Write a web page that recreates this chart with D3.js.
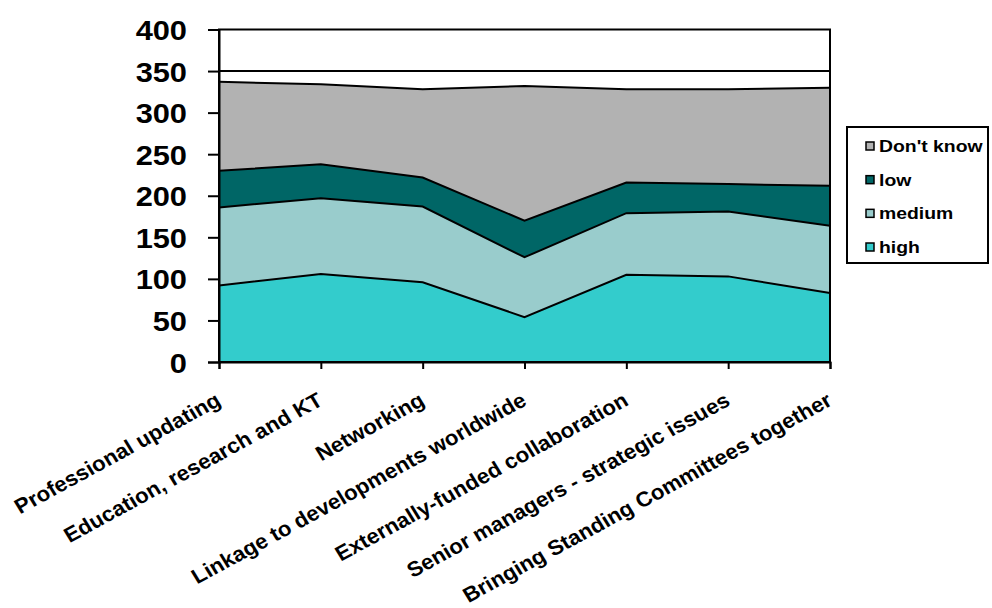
<!DOCTYPE html>
<html>
<head>
<meta charset="utf-8">
<script src="https://cdn.jsdelivr.net/npm/d3@7"></script>
<style>
  html, body { margin: 0; padding: 0; background: #fff; }
  svg { display: block; }
  text { font-family: "Liberation Sans", Arial, sans-serif; font-weight: bold; fill: #000; }
</style>
</head>
<body>
<svg id="chart" width="992" height="608"></svg>
<script>
const categories = [
  "Professional updating",
  "Education, research and KT",
  "Networking",
  "Linkage to developments worldwide",
  "Externally-funded collaboration",
  "Senior managers - strategic issues",
  "Bringing Standing Committees together"
];
const seriesNames = ["high", "medium", "low", "Don't know"];
const high      = [92, 106, 96, 54, 105, 103, 83];
const medium    = [94, 91, 91, 72, 74, 78, 81];
const low       = [44, 41, 35, 44, 37, 33, 48];
const dontKnow  = [107, 96, 106, 162, 112, 114, 118];
const yTicks = [0, 50, 100, 150, 200, 250, 300, 350, 400];
const colors = ["#33CCCC", "#99CCCC", "#006666", "#B2B2B2"];

const rows = categories.map((c, i) => ({
  cat: c, "high": high[i], "medium": medium[i], "low": low[i], "Don't know": dontKnow[i]
}));

const svg = d3.select("#chart");
const pLeft = 219, pRight = 830, pTop = 29.5, pBottom = 362;

const x = d3.scalePoint().domain(categories).range([pLeft, pRight]);
const y = d3.scaleLinear().domain([0, 400]).range([pBottom, pTop]);

// gridlines
svg.append("g").selectAll("line").data(yTicks.filter(t => t > 0 && t < 400)).join("line")
  .attr("x1", pLeft).attr("x2", pRight)
  .attr("y1", d => y(d)).attr("y2", d => y(d))
  .attr("stroke", "#000").attr("stroke-width", 2);

const stack = d3.stack().keys(seriesNames);
const layers = stack(rows);

const area = d3.area()
  .x(d => x(d.data.cat))
  .y0(d => y(d[0]))
  .y1(d => y(d[1]));
const topLine = d3.line()
  .x(d => x(d.data.cat))
  .y(d => y(d[1]));

svg.append("g").selectAll("path").data(layers).join("path")
  .attr("d", area)
  .attr("fill", (d, i) => colors[i])
  .attr("stroke", "none");

svg.append("g").selectAll("path").data(layers).join("path")
  .attr("d", topLine)
  .attr("fill", "none")
  .attr("stroke", "#000")
  .attr("stroke-width", 2);

// plot border
svg.append("rect")
  .attr("x", pLeft).attr("y", pTop)
  .attr("width", pRight - pLeft).attr("height", pBottom - pTop)
  .attr("fill", "none").attr("stroke", "#000").attr("stroke-width", 2);

// y axis
const yAxis = d3.axisLeft(y).tickValues(yTicks).tickSize(11).tickPadding(0);
const yg = svg.append("g").attr("transform", `translate(${pLeft},0)`).call(yAxis);
yg.select(".domain").attr("stroke", "#000").attr("stroke-width", 2);
yg.selectAll(".tick line").attr("stroke", "#000").attr("stroke-width", 2);
yg.selectAll(".tick text").remove();
yg.selectAll(".tick").append("text")
  .attr("transform", "translate(-32,0) scale(1.1,1)")
  .attr("text-anchor", "end")
  .attr("dy", "0.36em")
  .style("font-size", "28px")
  .text(d => d);

// x axis
const xAxis = d3.axisBottom(x).tickSize(7).tickPadding(0);
const xg = svg.append("g").attr("transform", `translate(0,${pBottom})`).call(xAxis);
xg.select(".domain").attr("stroke", "#000").attr("stroke-width", 2);
xg.selectAll(".tick line").attr("stroke", "#000").attr("stroke-width", 2);
xg.selectAll(".tick text").remove();
xg.selectAll(".tick").append("text")
  .attr("transform", "translate(-1,36) scale(1.06,1) rotate(-30)")
  .attr("text-anchor", "end")
  .attr("dy", "0.35em")
  .style("font-size", "21px")
  .text(d => d);

// legend
const legendItems = ["Don't know", "low", "medium", "high"];
const legendColors = ["#B2B2B2", "#006666", "#99CCCC", "#33CCCC"];
const lg = svg.append("g");
lg.append("rect").attr("x", 847).attr("y", 127).attr("width", 141).attr("height", 136)
  .attr("fill", "#fff").attr("stroke", "#000").attr("stroke-width", 2);
const ly = d3.scalePoint().domain(legendItems).range([146, 247]);
const items = lg.selectAll("g.item").data(legendItems).join("g")
  .attr("class", "item")
  .attr("transform", d => `translate(0,${ly(d)})`);
items.append("rect").attr("x", 866).attr("y", -4).attr("width", 8).attr("height", 8)
  .attr("fill", (d, i) => legendColors[i]).attr("stroke", "#000").attr("stroke-width", 1.5);
items.append("text")
  .attr("transform", "translate(879,0) scale(1.14,1)")
  .attr("dy", "0.36em")
  .style("font-size", "17px")
  .text(d => d);
</script>
</body>
</html>
